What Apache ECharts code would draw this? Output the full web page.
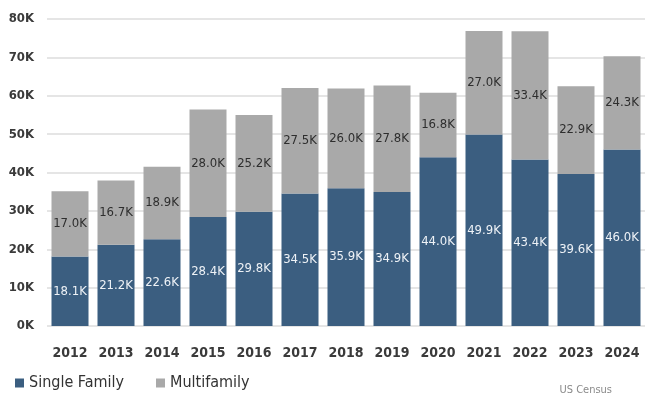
<!DOCTYPE html>
<html>
<head>
<meta charset="utf-8">
<script src="https://cdn.jsdelivr.net/npm/echarts@6/dist/echarts.min.js"></script>
<style>
  html, body { margin: 0; padding: 0; background: #fff; }
  #chart { width: 645px; height: 399px; }
</style>
</head>
<body>
<div id="chart"></div>
<script>
// Housing starts by year, thousands of units
const years = ['2012','2013','2014','2015','2016','2017','2018','2019','2020','2021','2022','2023','2024'];
const singleFamily = [18.1, 21.2, 22.6, 28.4, 29.8, 34.5, 35.9, 34.9, 44.0, 49.9, 43.4, 39.6, 46.0];
const multifamily  = [17.0, 16.7, 18.9, 28.0, 25.2, 27.5, 26.0, 27.8, 16.8, 27.0, 33.4, 22.9, 24.3];
const yTicks = [0, 10, 20, 30, 40, 50, 60, 70, 80];

const FONT = '"DejaVu Sans Condensed", sans-serif';
const fmtK = v => v.toFixed(1) + 'K';

const chart = echarts.init(document.getElementById('chart'), null, { renderer: 'canvas' });
chart.setOption({
  animation: false,
  backgroundColor: '#ffffff',
  grid: { left: 47, top: 19, width: 604, height: 307, containLabel: false },
  legend: {
    left: 10, bottom: 3,
    itemWidth: 9, itemHeight: 9, itemGap: 32,
    icon: 'rect',
    textStyle: { fontFamily: FONT, fontSize: 16, color: '#333' },
    data: ['Single Family', 'Multifamily']
  },
  graphic: [{
    type: 'text', right: 33, bottom: 3,
    style: { text: 'US Census', fontFamily: FONT, fontSize: 11, fill: '#8a8a8a' }
  }],
  xAxis: {
    type: 'category', data: years,
    axisLine: { show: false }, axisTick: { show: false },
    axisLabel: { interval: 0, fontFamily: FONT, fontSize: 14, fontWeight: 'bold', color: '#3a3a3a', margin: 20 }
  },
  yAxis: {
    type: 'value', min: 0, max: 80, interval: 10,
    axisLabel: {
      fontFamily: FONT, fontSize: 13, fontWeight: 'bold', color: '#3a3a3a', margin: 13,
      formatter: v => yTicks.includes(v) ? v + 'K' : ''
    },
    splitLine: { lineStyle: { color: '#dcdcdc', width: 1.5 } },
    axisLine: { show: false }, axisTick: { show: false }
  },
  series: [
    {
      name: 'Single Family', type: 'bar', stack: 'total',
      data: singleFamily, barWidth: 37,
      itemStyle: { color: '#3b5e80' },
      label: {
        show: true, position: 'inside', formatter: p => fmtK(p.value),
        fontFamily: FONT, fontSize: 13, color: '#eef2f6'
      }
    },
    {
      name: 'Multifamily', type: 'bar', stack: 'total',
      data: multifamily, barWidth: 37,
      itemStyle: { color: '#a9a9a9' },
      label: {
        show: true, position: 'inside', formatter: p => fmtK(p.value),
        fontFamily: FONT, fontSize: 13, color: '#2e2e2e'
      }
    }
  ]
});
</script>
</body>
</html>
